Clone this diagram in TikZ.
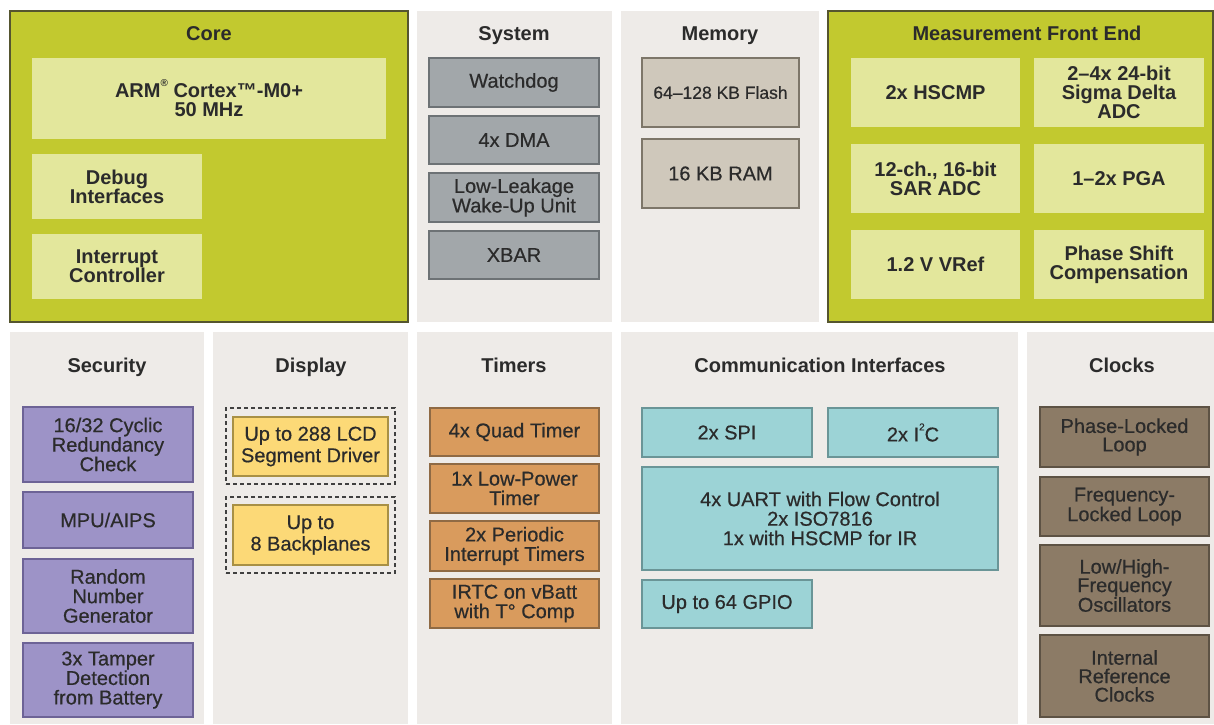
\documentclass[tikz,border=0pt]{standalone}
\usepackage{fontspec}
\setmainfont{Liberation Sans}
\newfontfamily\medfont{Liberation Sans}[FakeBold=0.5]
\definecolor{coregreen}{HTML}{C2C92F}
\definecolor{coreborder}{HTML}{55552F}
\definecolor{corelight}{HTML}{E3E79C}
\definecolor{panelbg}{HTML}{EEEBE8}
\definecolor{sysgray}{HTML}{A2A7AA}
\definecolor{sysborder}{HTML}{6D7275}
\definecolor{memtan}{HTML}{CFC8BB}
\definecolor{memborder}{HTML}{7D7669}
\definecolor{secpurple}{HTML}{9D93C7}
\definecolor{secborder}{HTML}{6D6396}
\definecolor{dispyellow}{HTML}{FCD977}
\definecolor{dispborder}{HTML}{A89045}
\definecolor{timorange}{HTML}{D99B5D}
\definecolor{timborder}{HTML}{8F6A44}
\definecolor{commcyan}{HTML}{9CD3D6}
\definecolor{commborder}{HTML}{6A9597}
\definecolor{clkbrown}{HTML}{8C7B66}
\definecolor{clkborder}{HTML}{5D5244}
\definecolor{txt}{HTML}{2B2B2B}
\newcommand\bx[7]{\node[#1, minimum width={(#5-#3)*1pt}, minimum height={(#6-#4)*1pt}] (#2) at ({(#3+#5)/2},{(#4+#6)/2}) {#7};}
\newcommand\sups[1]{\raisebox{0.55em}{\fontsize{10}{10}\selectfont #1}}
\begin{document}
\begin{tikzpicture}[x=1pt,y=-1pt,
  base/.style={inner sep=0pt, outer sep=0pt, align=center, text=txt, font=\medfont\fontsize{20}{19.5}\selectfont},
  greenpanel/.style={base, fill=coregreen, draw=coreborder, line width=1.6pt},
  graypanel/.style={base, fill=panelbg},
  ptitle/.style={text=txt, font=\bfseries\fontsize{20}{20}\selectfont, inner sep=0pt, anchor=base},
  corebox/.style={base, fill=corelight, font=\bfseries\fontsize{20}{19}\selectfont},
  sysbox/.style={base, fill=sysgray, draw=sysborder, line width=1.2pt},
  membox/.style={base, fill=memtan, draw=memborder, line width=1.2pt},
  secbox/.style={base, fill=secpurple, draw=secborder, line width=1.2pt},
  dispbox/.style={base, fill=dispyellow, draw=dispborder, line width=1.2pt, font=\medfont\fontsize{20}{21.5}\selectfont},
  dashbox/.style={base, draw=black!75, dashed, line width=1.2pt, dash pattern=on 4pt off 3pt},
  timbox/.style={base, fill=timorange, draw=timborder, line width=1.2pt},
  commbox/.style={base, fill=commcyan, draw=commborder, line width=1.2pt},
  clkbox/.style={base, fill=clkbrown, draw=clkborder, line width=1.2pt, font=\medfont\fontsize{20}{18.5}\selectfont}]
\useasboundingbox (0,0) rectangle (1214,724);
\fill[white] (0,0) rectangle (1214,724);
% panels
\bx{greenpanel}{core}{10}{11}{408}{322}{}
\bx{graypanel}{system}{417}{11}{612}{322}{}
\bx{graypanel}{memory}{621}{11}{819}{322}{}
\bx{greenpanel}{mfe}{828}{11}{1213}{322}{}
\bx{graypanel}{security}{10}{332}{204}{724}{}
\bx{graypanel}{display}{213}{332}{408}{724}{}
\bx{graypanel}{timers}{417}{332}{612}{724}{}
\bx{graypanel}{comm}{621}{332}{1018}{724}{}
\bx{graypanel}{clocks}{1027}{332}{1214}{724}{}
% titles
\node[ptitle] (tcore) at (209,40) {Core};
\node[ptitle] (tsys) at (514,40) {System};
\node[ptitle] (tmem) at (720,40) {Memory};
\node[ptitle] (tmfe) at (1027,40) {Measurement Front End};
\node[ptitle] (tsec) at (107,372) {Security};
\node[ptitle] (tdisp) at (311,372) {Display};
\node[ptitle] (ttim) at (514,372) {Timers};
\node[ptitle] (tcomm) at (820,372) {Communication Interfaces};
\node[ptitle] (tclk) at (1122,372) {Clocks};
% core
\bx{corebox}{arm}{32}{58}{386}{139}{ARM\sups{®} Cortex™-M0+\\50 MHz}
\bx{corebox}{debug}{32}{154}{202}{219}{Debug\\Interfaces}
\bx{corebox}{intc}{32}{234}{202}{299}{Interrupt\\Controller}
% system
\bx{sysbox}{wdog}{429}{58}{599}{107}{Watchdog}
\bx{sysbox}{dma}{429}{116}{599}{164}{4x DMA}
\bx{sysbox}{llwu}{429}{173}{599}{222}{Low-Leakage\\Wake-Up Unit}
\bx{sysbox}{xbar}{429}{231}{599}{279}{XBAR}
% memory
\bx{membox}{flash}{642}{58}{799}{127}{\fontsize{17.5}{19}\selectfont 64–128 KB Flash}
\bx{membox}{ram}{642}{139}{799}{208}{16 KB RAM}
% measurement front end
\bx{corebox}{hscmp}{851}{58}{1020}{127}{2x HSCMP}
\bx{corebox}{sdadc}{1034}{58}{1204}{127}{2–4x 24-bit\\Sigma Delta\\ADC}
\bx{corebox}{sar}{851}{144}{1020}{213}{12-ch., 16-bit\\SAR ADC}
\bx{corebox}{pga}{1034}{144}{1204}{213}{1–2x PGA}
\bx{corebox}{vref}{851}{230}{1020}{299}{1.2 V VRef}
\bx{corebox}{psc}{1034}{230}{1204}{299}{Phase Shift\\Compensation}
% security
\bx{secbox}{crc}{23}{407}{193}{482}{16/32 Cyclic\\Redundancy\\Check}
\bx{secbox}{mpu}{23}{492}{193}{548}{MPU/AIPS}
\bx{secbox}{rng}{23}{559}{193}{633}{Random\\Number\\Generator}
\bx{secbox}{tamper}{23}{643}{193}{717}{3x Tamper\\Detection\\from Battery}
% display
\bx{dashbox}{lcdgroup}{226}{408}{395}{484}{}
\bx{dispbox}{lcd}{233}{417}{388}{476}{Up to 288 LCD\\Segment Driver}
\bx{dashbox}{bpgroup}{226}{497}{395}{573}{}
\bx{dispbox}{bp}{233}{505}{388}{565}{Up to\\8 Backplanes}
% timers
\bx{timbox}{quad}{430}{408}{599}{456}{4x Quad Timer}
\bx{timbox}{lptmr}{430}{464}{599}{513}{1x Low-Power\\Timer}
\bx{timbox}{pit}{430}{521}{599}{571}{2x Periodic\\Interrupt Timers}
\bx{timbox}{irtc}{430}{579}{599}{628}{\fontsize{20}{22}\selectfont IRTC on vBatt\\with T° Comp}
% communication
\bx{commbox}{spi}{642}{408}{812}{457}{2x SPI}
\bx{commbox}{iic}{828}{408}{998}{457}{2x I\sups{2}C}
\bx{commbox}{uart}{642}{467}{998}{570}{\fontsize{20}{25}\selectfont 4x UART with Flow Control\\2x ISO7816\\1x with HSCMP for IR}
\bx{commbox}{gpio}{642}{580}{812}{628}{Up to 64 GPIO}
% clocks
\bx{clkbox}{pll}{1040}{407}{1209}{467}{Phase-Locked\\Loop}
\bx{clkbox}{fll}{1040}{477}{1209}{536}{Frequency-\\Locked Loop}
\bx{clkbox}{osc}{1040}{545}{1209}{626}{Low/High-\\Frequency\\Oscillators}
\bx{clkbox}{irc}{1040}{635}{1209}{717}{Internal\\Reference\\Clocks}
\end{tikzpicture}
\end{document}
